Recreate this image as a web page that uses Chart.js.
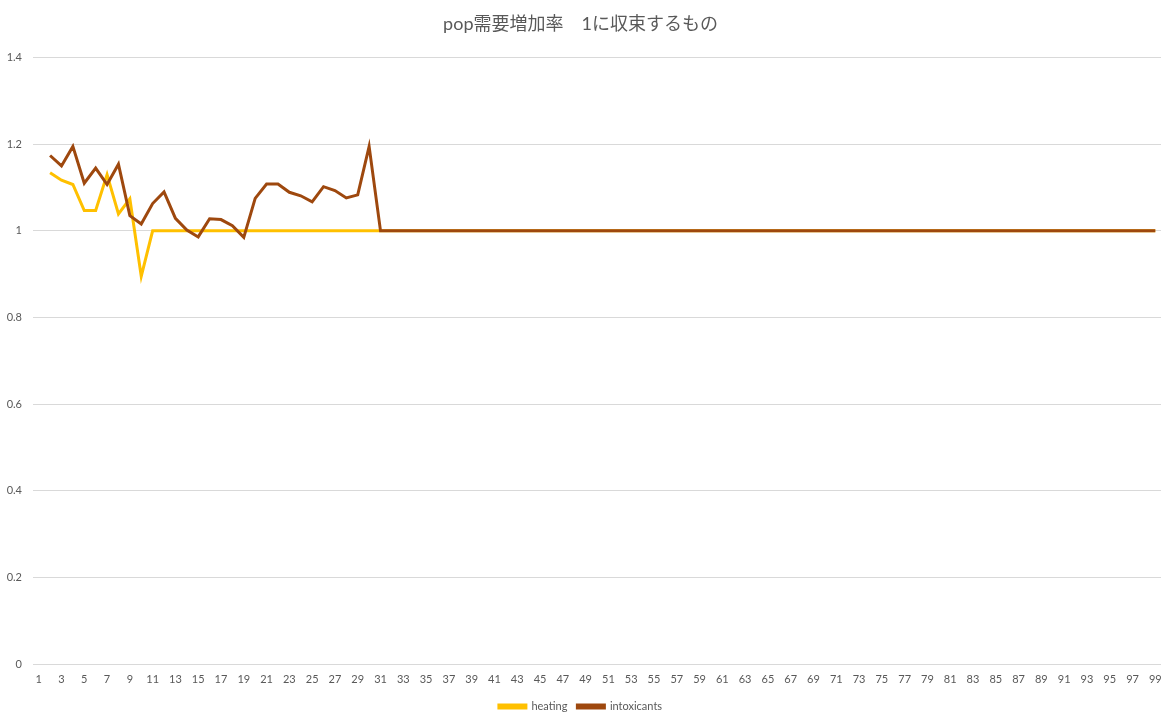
<!DOCTYPE html>
<html>
<head>
<meta charset="utf-8">
<script src="https://cdn.jsdelivr.net/npm/chart.js@4.4.1/dist/chart.umd.min.js"></script>
<style>
  html, body { margin: 0; padding: 0; background: #ffffff; }
</style>
</head>
<body>
<canvas id="popChart" width="1175" height="725"></canvas>
<script>
// pop需要増加率 — 1に収束するもの
const titleText = 'pop需要増加率　1に収束するもの';

const categories = [
    1, 2, 3, 4, 5, 6, 7, 8, 9, 10,
    11, 12, 13, 14, 15, 16, 17, 18, 19, 20,
    21, 22, 23, 24, 25, 26, 27, 28, 29, 30,
    31, 32, 33, 34, 35, 36, 37, 38, 39, 40,
    41, 42, 43, 44, 45, 46, 47, 48, 49, 50,
    51, 52, 53, 54, 55, 56, 57, 58, 59, 60,
    61, 62, 63, 64, 65, 66, 67, 68, 69, 70,
    71, 72, 73, 74, 75, 76, 77, 78, 79, 80,
    81, 82, 83, 84, 85, 86, 87, 88, 89, 90,
    91, 92, 93, 94, 95, 96, 97, 98, 99
];

const heating = [
    null, 1.134, 1.117, 1.107, 1.047, 1.047, 1.130, 1.039, 1.074, 0.895,
    1, 1, 1, 1, 1, 1, 1, 1, 1, 1,
    1, 1, 1, 1, 1, 1, 1, 1, 1, 1,
    1, 1, 1, 1, 1, 1, 1, 1, 1, 1,
    1, 1, 1, 1, 1, 1, 1, 1, 1, 1,
    1, 1, 1, 1, 1, 1, 1, 1, 1, 1,
    1, 1, 1, 1, 1, 1, 1, 1, 1, 1,
    1, 1, 1, 1, 1, 1, 1, 1, 1, 1,
    1, 1, 1, 1, 1, 1, 1, 1, 1, 1,
    1, 1, 1, 1, 1, 1, 1, 1, 1
];

const intoxicants = [
    null, 1.174, 1.150, 1.195, 1.110, 1.145, 1.107, 1.154, 1.035, 1.016,
    1.063, 1.090, 1.029, 1.002, 0.986, 1.028, 1.026, 1.012, 0.985, 1.075,
    1.108, 1.108, 1.089, 1.081, 1.067, 1.102, 1.093, 1.076, 1.083, 1.195,
    1, 1, 1, 1, 1, 1, 1, 1, 1, 1,
    1, 1, 1, 1, 1, 1, 1, 1, 1, 1,
    1, 1, 1, 1, 1, 1, 1, 1, 1, 1,
    1, 1, 1, 1, 1, 1, 1, 1, 1, 1,
    1, 1, 1, 1, 1, 1, 1, 1, 1, 1,
    1, 1, 1, 1, 1, 1, 1, 1, 1, 1,
    1, 1, 1, 1, 1, 1, 1, 1, 1
];

const seriesNames = ['heating', 'intoxicants'];
const yTicks = { min: 0, max: 1.4, step: 0.2 };

const textColor = '#595959';
const gridColor = '#d9d9d9';
const fontFamily = "Lato, 'Noto Sans CJK JP', sans-serif";

const ctx = document.getElementById('popChart');

new Chart(ctx, {
    type: 'line',
    data: {
        labels: categories,
        datasets: [{
            label: seriesNames[0],
            data: heating,
            borderColor: '#ffc000',
            backgroundColor: '#ffc000',
            borderWidth: 3,
            pointRadius: 0,
            tension: 0,
            order: 1
        }, {
            label: seriesNames[1],
            data: intoxicants,
            borderColor: '#9e480e',
            backgroundColor: '#9e480e',
            borderWidth: 3,
            pointRadius: 0,
            tension: 0,
            order: 0
        }]
    },
    options: {
        responsive: false,
        animation: false,
        devicePixelRatio: 1,
        layout: {
            padding: { left: 0, right: 14, top: 0, bottom: 3 }
        },
        plugins: {
            title: {
                display: true,
                text: titleText,
                color: textColor,
                font: { family: fontFamily, size: 18, weight: '400' },
                padding: { top: 13, bottom: 23 }
            },
            legend: {
                position: 'bottom',
                labels: {
                    color: textColor,
                    font: { family: fontFamily, size: 11 },
                    boxWidth: 27,
                    boxHeight: 3,
                    padding: 10,
                    sort: (a, b) => a.datasetIndex - b.datasetIndex
                }
            },
            tooltip: { enabled: false }
        },
        scales: {
            x: {
                offset: true,
                grid: { display: false, drawTicks: false },
                border: { display: false },
                ticks: {
                    autoSkip: false,
                    maxRotation: 0,
                    padding: 9,
                    color: textColor,
                    font: { family: fontFamily, size: 11 },
                    callback: function (value, index) {
                        return index % 2 === 0 ? this.getLabelForValue(value) : '';
                    }
                },
                afterFit: (scale) => { scale.height = 27; }
            },
            y: {
                min: yTicks.min,
                max: yTicks.max,
                grid: { color: gridColor, drawTicks: false },
                border: { display: false },
                ticks: {
                    stepSize: yTicks.step,
                    padding: 11,
                    color: textColor,
                    font: { family: fontFamily, size: 11 },
                    callback: (value) => String(Math.round(value * 10) / 10)
                },
                afterFit: (scale) => { scale.width = 33; }
            }
        }
    }
});
</script>
</body>
</html>
